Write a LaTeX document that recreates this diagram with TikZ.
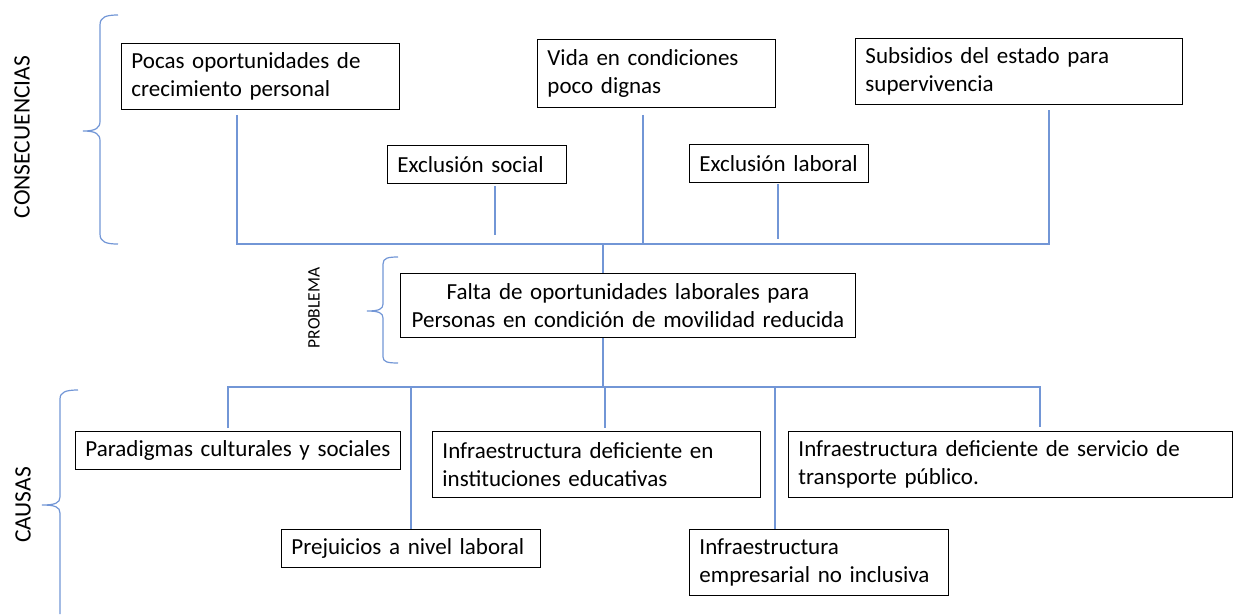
\documentclass[tikz,border=0pt]{standalone}
\usepackage{fontspec}
\setmainfont{Carlito}
\usetikzlibrary{calc}
\definecolor{azulrama}{RGB}{114,150,214}
\tikzset{
    caja/.style={draw=black, line width=0.9pt, fill=white, anchor=north west, align=left,
        inner xsep=10pt, inner ysep=3pt, font=\fontsize{23}{28.5}\selectfont},
    rama/.style={draw=azulrama, line width=1.2pt},
    llave/.style={draw=azulrama, line width=1.2pt},
    titulo/.style={rotate=90, font=\fontsize{23.5}{26}\selectfont}
}
\begin{document}
\begin{tikzpicture}[x=1pt, y=-1pt]
            \useasboundingbox (0, 0) rectangle (1233, 614);

            \node[titulo] (consec) at (22, 137) {CONSECUENCIAS};
            \node[titulo, font=\fontsize{17.5}{20}\selectfont] (probl) at (314, 308) {PROBLEMA};
            \node[titulo] (causas) at (23, 505) {CAUSAS};

            \draw[llave] (118, 15) .. controls (106, 15) and (100, 17) .. (100, 25) -- (100, 121)
                .. controls (100, 128) and (96, 131) .. (83, 131) .. controls (96, 131) and (100, 134) .. (100, 141)
                -- (100, 234) .. controls (100, 242) and (106, 244) .. (118, 244);
            \draw[llave] (398, 257) .. controls (388, 257) and (383, 258) .. (383, 264) -- (383, 304)
                .. controls (383, 309) and (379, 311) .. (367, 311) .. controls (379, 311) and (383, 313) .. (383, 318)
                -- (383, 357) .. controls (383, 362) and (388, 363) .. (398, 363);
            \draw[llave] (78, 390) .. controls (66, 390) and (60, 392) .. (60, 399) -- (60, 497)
                .. controls (60, 503) and (55, 505) .. (42, 505) .. controls (55, 505) and (60, 507) .. (60, 513)
                -- (60, 614);

            \node[caja, text width=258pt, minimum height=66pt] (pocas) at (121, 43)
                {Pocas oportunidades de\\crecimiento personal};
            \node[caja, text width=218pt, minimum height=68pt] (vida) at (537, 39)
                {Vida en condiciones\\poco dignas};
            \node[caja, text width=307pt, minimum height=66pt] (subsidios) at (855, 38)
                {Subsidios del estado para\\supervivencia};
            \node[caja, text width=159pt, minimum height=38pt] (exsocial) at (387, 145) {Exclusión social};
            \node[caja, text width=159pt, minimum height=38pt] (exlaboral) at (689, 144) {Exclusión laboral};

            \node[caja, align=center, inner xsep=5pt, text width=445pt, minimum height=64pt] (problema) at (400, 273)
                {Falta de oportunidades laborales para\\Personas en condición de movilidad reducida};

            \node[caja, text width=305pt, minimum height=38pt] (paradigmas) at (75, 431)
                {Paradigmas culturales y sociales};
            \node[caja, text width=308pt, minimum height=66pt] (infraedu) at (432, 431)
                {Infraestructura deficiente en\\instituciones educativas};
            \node[caja, text width=424pt, minimum height=66pt] (transporte) at (788, 431)
                {Infraestructura deficiente de servicio de\\transporte público.};
            \node[caja, text width=239pt, minimum height=38pt] (prejuicios) at (281, 529)
                {Prejuicios a nivel laboral};
            \node[caja, text width=239pt, minimum height=66pt] (empresarial) at (689, 529)
                {Infraestructura\\empresarial no inclusiva};

            \coordinate (barraIzq) at (237, 244);
            \coordinate (barraDer) at (1049, 244);
            \coordinate (barraVida) at (643, 244);
            \coordinate (finSocial) at (495, 235);
            \coordinate (finLaboral) at (778, 239);
            \coordinate (tallo) at (603, 244);
            \coordinate (raizIzq) at (228, 387);
            \coordinate (raizDer) at (1040, 387);
            \coordinate (ramaEdu) at (605, 387);
            \coordinate (ramaEmp) at (775, 387);

            \draw[rama] ($(pocas.south -| barraIzq) + (0, 5)$) -- (barraIzq) -- (barraDer)
                -- ($(subsidios.south -| barraDer) + (0, 5)$);
            \draw[rama] ($(vida.south -| barraVida) + (0, 7)$) -- (barraVida);
            \draw[rama] ($(exsocial.south -| finSocial) + (0, 2)$) -- (finSocial);
            \draw[rama] ($(exlaboral.south -| finLaboral) + (0, 1)$) -- (finLaboral);

            \draw[rama] (tallo) -- (tallo |- problema.north);
            \draw[rama] (problema.south -| tallo) -- (tallo |- raizIzq);

            \draw[rama] ($(paradigmas.north -| raizIzq) + (0, -3)$) -- (raizIzq) -- (raizDer)
                -- ($(transporte.north -| raizDer) + (0, -4)$);
            \draw[rama] (prejuicios.north) -- (prejuicios.north |- raizIzq);
            \draw[rama] (ramaEdu) -- ($(infraedu.north -| ramaEdu) + (0, -3)$);
            \draw[rama] (ramaEmp) -- (empresarial.north -| ramaEmp);
        \end{tikzpicture}
\end{document}
